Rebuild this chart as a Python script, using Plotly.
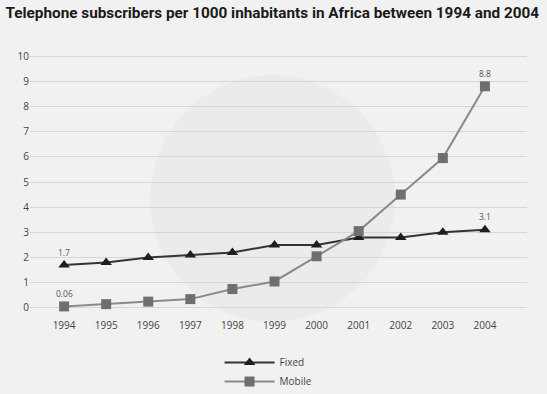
import plotly.graph_objects as go

years = [1994, 1995, 1996, 1997, 1998, 1999, 2000, 2001, 2002, 2003, 2004]
fixed = [1.7, 1.8, 2.0, 2.1, 2.2, 2.5, 2.5, 2.8, 2.8, 3.0, 3.1]
mobile = [0.06, 0.15, 0.25, 0.35, 0.75, 1.05, 2.05, 3.05, 4.5, 5.95, 8.8]
y_ticks = list(range(0, 11))
title = "Telephone subscribers per 1000 inhabitants in Africa between 1994 and 2004"

fig = go.Figure()
fig.add_trace(go.Scatter(
    x=years, y=fixed, name="Fixed", mode="lines+markers",
    line=dict(color="#333333", width=2),
    marker=dict(symbol="triangle-up", size=10, color="#1e1e1e"),
))
fig.add_trace(go.Scatter(
    x=years, y=mobile, name="Mobile", mode="lines+markers",
    line=dict(color="#8a8a8a", width=2),
    marker=dict(symbol="square", size=10, color="#6f6f6f"),
))

for xs, ys in ((years, fixed), (years, mobile)):
    for i in (0, len(xs) - 1):
        v = ys[i]
        fig.add_annotation(x=xs[i], y=v, text=f"{v:g}", showarrow=False,
                           yshift=13, font=dict(size=8.5, color="#555555"))

fig.add_shape(type="circle", xref="paper", yref="paper",
              x0=(150 - 30) / 497, x1=(395 - 30) / 497,
              y0=(318 - 322) / 272, y1=(318 - 75) / 272,
              fillcolor="rgba(0,0,0,0.025)", line=dict(width=0), layer="below")

fig.update_layout(
    width=547, height=394,
    paper_bgcolor="#f1f1f1", plot_bgcolor="rgba(0,0,0,0)",
    margin=dict(l=30, r=20, t=46, b=76, autoexpand=False),
    title=dict(text=f"<b>{title}</b>", x=0.01, xanchor="left", y=0.967, yanchor="middle",
               font=dict(family="Roboto", size=15.3, color="#1a1a1a")),
    font=dict(family="Open Sans", color="#555555", size=9),
    xaxis=dict(range=[1993.19, 2005.0], tickvals=years, showgrid=False, zeroline=False,
               showline=False, ticks="", tickfont=dict(size=10, color="#444444")),
    yaxis=dict(range=[-0.4, 10.4], tickvals=y_ticks, showgrid=True, gridcolor="#d6d6d6",
               gridwidth=1, zeroline=False, showline=False, ticks="",
               tickfont=dict(size=10, color="#444444")),
    legend=dict(orientation="v", x=0.48, xanchor="center", yref="container",
                y=0.117, yanchor="top",
                bgcolor="rgba(0,0,0,0)", font=dict(size=10, color="#444444"),
                itemwidth=50, tracegroupgap=4),
    showlegend=True,
)

fig.write_html("out.html")
